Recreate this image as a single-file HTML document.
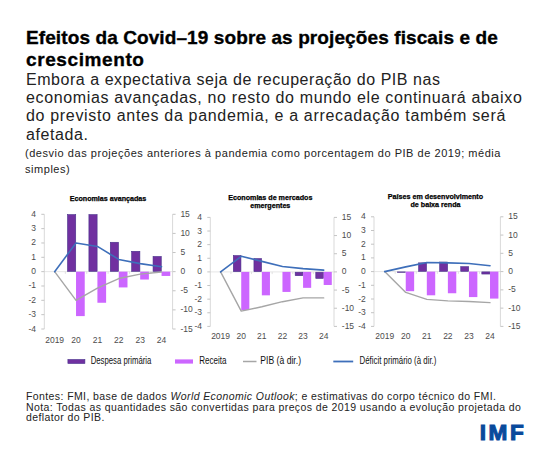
<!DOCTYPE html>
<html><head><meta charset="utf-8"><style>
html,body{margin:0;padding:0;background:#fff;}
body{width:550px;height:450px;position:relative;overflow:hidden;font-family:"Liberation Sans",sans-serif;color:#000;}
.t{position:absolute;white-space:nowrap;left:0;top:0;}
.h{font-weight:bold;font-size:19px;line-height:22px;letter-spacing:0.1px;color:#000;-webkit-text-stroke:0.35px #000;}
.s{font-size:16px;line-height:18.5px;color:#222;}
.n{font-size:11px;line-height:16px;color:#222;letter-spacing:0.54px}
.f{font-size:10.5px;line-height:10.5px;color:#222;letter-spacing:0.4px}
svg{position:absolute;left:0;top:0;}
.ax{font-family:"Liberation Sans",sans-serif;font-size:8.5px;fill:#4D4D4D;}
.ct{font-family:"Liberation Sans",sans-serif;font-size:7.15px;font-weight:bold;fill:#000;stroke:#000;stroke-width:0.25px}
.lg{font-family:"Liberation Sans",sans-serif;font-size:10.2px;fill:#111;}
</style></head><body>
<div class="t h m" style="left:26px;top:26.5px;">Efeitos da Covid–19 sobre as projeções fiscais e de</div>
<div class="t h m" style="left:26px;top:49px;letter-spacing:0.6px">crescimento</div>
<div class="t s m" style="left:26px;top:70.8px;letter-spacing:0.54px">Embora a expectativa seja de recuperação do PIB nas</div>
<div class="t s m" style="left:26px;top:89.1px;letter-spacing:0.64px">economias avançadas, no resto do mundo ele continuará abaixo</div>
<div class="t s m" style="left:26px;top:107.4px;letter-spacing:0.67px">do previsto antes da pandemia, e a arrecadação também será</div>
<div class="t s m" style="left:26px;top:126.4px;letter-spacing:0.6px">afetada.</div>
<div class="t n m" style="left:25px;top:145px;">(desvio das projeções anteriores à pandemia como porcentagem do PIB de 2019; média</div>
<div class="t n m" style="left:25px;top:161px;">simples)</div>
<div class="t f m" style="left:26px;top:391px;">Fontes: FMI, base de dados <i>World Economic Outlook</i>; e estimativas do corpo técnico do FMI.</div>
<div class="t f m" style="left:26px;top:401.5px;">Nota: Todas as quantidades são convertidas para preços de 2019 usando a evolução projetada do</div>
<div class="t f m" style="left:26px;top:412px;">deflator do PIB.</div>
<svg width="550" height="450" viewBox="0 0 550 450">
<line x1="44.3" y1="271.65" x2="172.6" y2="271.65" stroke="#E6E6E6" stroke-width="1"/>
<line x1="44.3" y1="214.3" x2="44.3" y2="329.0" stroke="#D9D9D9" stroke-width="1"/>
<line x1="172.6" y1="214.3" x2="172.6" y2="329.0" stroke="#D9D9D9" stroke-width="1"/>
<line x1="41.3" y1="214.30" x2="44.3" y2="214.30" stroke="#C4C4C4" stroke-width="1"/>
<text x="36.00" y="216.80" text-anchor="end" class="ax">4</text>
<line x1="41.3" y1="228.64" x2="44.3" y2="228.64" stroke="#C4C4C4" stroke-width="1"/>
<text x="36.00" y="231.14" text-anchor="end" class="ax">3</text>
<line x1="41.3" y1="242.98" x2="44.3" y2="242.98" stroke="#C4C4C4" stroke-width="1"/>
<text x="36.00" y="245.48" text-anchor="end" class="ax">2</text>
<line x1="41.3" y1="257.31" x2="44.3" y2="257.31" stroke="#C4C4C4" stroke-width="1"/>
<text x="36.00" y="259.81" text-anchor="end" class="ax">1</text>
<line x1="41.3" y1="271.65" x2="44.3" y2="271.65" stroke="#C4C4C4" stroke-width="1"/>
<text x="36.00" y="274.15" text-anchor="end" class="ax">0</text>
<line x1="41.3" y1="285.99" x2="44.3" y2="285.99" stroke="#C4C4C4" stroke-width="1"/>
<text x="36.00" y="288.49" text-anchor="end" class="ax">-1</text>
<line x1="41.3" y1="300.32" x2="44.3" y2="300.32" stroke="#C4C4C4" stroke-width="1"/>
<text x="36.00" y="302.82" text-anchor="end" class="ax">-2</text>
<line x1="41.3" y1="314.66" x2="44.3" y2="314.66" stroke="#C4C4C4" stroke-width="1"/>
<text x="36.00" y="317.16" text-anchor="end" class="ax">-3</text>
<line x1="41.3" y1="329.00" x2="44.3" y2="329.00" stroke="#C4C4C4" stroke-width="1"/>
<text x="36.00" y="331.50" text-anchor="end" class="ax">-4</text>
<line x1="172.6" y1="214.30" x2="175.6" y2="214.30" stroke="#C4C4C4" stroke-width="1"/>
<text x="180.40" y="216.80" class="ax">15</text>
<line x1="172.6" y1="233.42" x2="175.6" y2="233.42" stroke="#C4C4C4" stroke-width="1"/>
<text x="180.40" y="235.92" class="ax">10</text>
<line x1="172.6" y1="252.53" x2="175.6" y2="252.53" stroke="#C4C4C4" stroke-width="1"/>
<text x="180.40" y="255.03" class="ax">5</text>
<line x1="172.6" y1="271.65" x2="175.6" y2="271.65" stroke="#C4C4C4" stroke-width="1"/>
<text x="180.40" y="274.15" class="ax">0</text>
<line x1="172.6" y1="290.77" x2="175.6" y2="290.77" stroke="#C4C4C4" stroke-width="1"/>
<text x="180.40" y="293.27" class="ax">-5</text>
<line x1="172.6" y1="309.88" x2="175.6" y2="309.88" stroke="#C4C4C4" stroke-width="1"/>
<text x="180.40" y="312.38" class="ax">-10</text>
<line x1="172.6" y1="329.00" x2="175.6" y2="329.00" stroke="#C4C4C4" stroke-width="1"/>
<text x="180.40" y="331.50" class="ax">-15</text>
<line x1="65.33" y1="271.65" x2="65.33" y2="273.85" stroke="#D9D9D9" stroke-width="0.8"/>
<line x1="86.72" y1="271.65" x2="86.72" y2="273.85" stroke="#D9D9D9" stroke-width="0.8"/>
<line x1="108.10" y1="271.65" x2="108.10" y2="273.85" stroke="#D9D9D9" stroke-width="0.8"/>
<line x1="129.48" y1="271.65" x2="129.48" y2="273.85" stroke="#D9D9D9" stroke-width="0.8"/>
<line x1="150.87" y1="271.65" x2="150.87" y2="273.85" stroke="#D9D9D9" stroke-width="0.8"/>
<rect x="67.53" y="214.60" width="8.20" height="56.75" fill="#7030A0" stroke="#46308A" stroke-width="0.6"/>
<rect x="76.03" y="271.65" width="8.7" height="44.45" fill="#CC66FF"/>
<rect x="88.91" y="214.60" width="8.20" height="56.75" fill="#7030A0" stroke="#46308A" stroke-width="0.6"/>
<rect x="97.41" y="271.65" width="8.7" height="31.11" fill="#CC66FF"/>
<rect x="110.29" y="242.27" width="8.20" height="29.08" fill="#7030A0" stroke="#46308A" stroke-width="0.6"/>
<rect x="118.79" y="271.65" width="8.7" height="15.77" fill="#CC66FF"/>
<rect x="131.68" y="251.30" width="8.20" height="20.05" fill="#7030A0" stroke="#46308A" stroke-width="0.6"/>
<rect x="140.18" y="271.65" width="8.7" height="7.89" fill="#CC66FF"/>
<rect x="153.06" y="256.47" width="8.20" height="14.88" fill="#7030A0" stroke="#46308A" stroke-width="0.6"/>
<rect x="161.56" y="271.65" width="8.7" height="4.30" fill="#CC66FF"/>
<polyline points="54.64,271.65 76.03,300.32 97.41,288.09 118.79,278.53 140.18,274.14 161.56,272.03" fill="none" stroke="#A6A6A6" stroke-width="1.4" stroke-linejoin="round" stroke-linecap="round"/>
<polyline points="54.64,271.65 76.03,242.97 97.41,246.42 118.79,259.42 140.18,263.62 161.56,266.68" fill="none" stroke="#3E6FBA" stroke-width="1.6" stroke-linejoin="round" stroke-linecap="round"/>
<text x="54.64" y="342.6" text-anchor="middle" class="ax">2019</text>
<text x="76.03" y="342.6" text-anchor="middle" class="ax">20</text>
<text x="97.41" y="342.6" text-anchor="middle" class="ax">21</text>
<text x="118.79" y="342.6" text-anchor="middle" class="ax">22</text>
<text x="140.18" y="342.6" text-anchor="middle" class="ax">23</text>
<text x="161.56" y="342.6" text-anchor="middle" class="ax">24</text>
<text x="108" y="200.8" text-anchor="middle" class="ct">Economias avançadas</text>
<line x1="210.3" y1="271.90" x2="334.0" y2="271.90" stroke="#E6E6E6" stroke-width="1"/>
<line x1="210.3" y1="217.4" x2="210.3" y2="326.4" stroke="#D9D9D9" stroke-width="1"/>
<line x1="334.0" y1="217.4" x2="334.0" y2="326.4" stroke="#D9D9D9" stroke-width="1"/>
<line x1="207.3" y1="217.40" x2="210.3" y2="217.40" stroke="#C4C4C4" stroke-width="1"/>
<text x="202.00" y="219.90" text-anchor="end" class="ax">4</text>
<line x1="207.3" y1="231.03" x2="210.3" y2="231.03" stroke="#C4C4C4" stroke-width="1"/>
<text x="202.00" y="233.53" text-anchor="end" class="ax">3</text>
<line x1="207.3" y1="244.65" x2="210.3" y2="244.65" stroke="#C4C4C4" stroke-width="1"/>
<text x="202.00" y="247.15" text-anchor="end" class="ax">2</text>
<line x1="207.3" y1="258.27" x2="210.3" y2="258.27" stroke="#C4C4C4" stroke-width="1"/>
<text x="202.00" y="260.77" text-anchor="end" class="ax">1</text>
<line x1="207.3" y1="271.90" x2="210.3" y2="271.90" stroke="#C4C4C4" stroke-width="1"/>
<text x="202.00" y="274.40" text-anchor="end" class="ax">0</text>
<line x1="207.3" y1="285.52" x2="210.3" y2="285.52" stroke="#C4C4C4" stroke-width="1"/>
<text x="202.00" y="288.02" text-anchor="end" class="ax">-1</text>
<line x1="207.3" y1="299.15" x2="210.3" y2="299.15" stroke="#C4C4C4" stroke-width="1"/>
<text x="202.00" y="301.65" text-anchor="end" class="ax">-2</text>
<line x1="207.3" y1="312.77" x2="210.3" y2="312.77" stroke="#C4C4C4" stroke-width="1"/>
<text x="202.00" y="315.27" text-anchor="end" class="ax">-3</text>
<line x1="207.3" y1="326.40" x2="210.3" y2="326.40" stroke="#C4C4C4" stroke-width="1"/>
<text x="202.00" y="328.90" text-anchor="end" class="ax">-4</text>
<line x1="334.0" y1="217.40" x2="337.0" y2="217.40" stroke="#C4C4C4" stroke-width="1"/>
<text x="341.80" y="219.90" class="ax">15</text>
<line x1="334.0" y1="235.57" x2="337.0" y2="235.57" stroke="#C4C4C4" stroke-width="1"/>
<text x="341.80" y="238.07" class="ax">10</text>
<line x1="334.0" y1="253.73" x2="337.0" y2="253.73" stroke="#C4C4C4" stroke-width="1"/>
<text x="341.80" y="256.23" class="ax">5</text>
<line x1="334.0" y1="271.90" x2="337.0" y2="271.90" stroke="#C4C4C4" stroke-width="1"/>
<text x="341.80" y="274.40" class="ax">0</text>
<line x1="334.0" y1="290.07" x2="337.0" y2="290.07" stroke="#C4C4C4" stroke-width="1"/>
<text x="341.80" y="292.57" class="ax">-5</text>
<line x1="334.0" y1="308.23" x2="337.0" y2="308.23" stroke="#C4C4C4" stroke-width="1"/>
<text x="341.80" y="310.73" class="ax">-10</text>
<line x1="334.0" y1="326.40" x2="337.0" y2="326.40" stroke="#C4C4C4" stroke-width="1"/>
<text x="341.80" y="328.90" class="ax">-15</text>
<line x1="230.92" y1="271.90" x2="230.92" y2="274.10" stroke="#D9D9D9" stroke-width="0.8"/>
<line x1="251.53" y1="271.90" x2="251.53" y2="274.10" stroke="#D9D9D9" stroke-width="0.8"/>
<line x1="272.15" y1="271.90" x2="272.15" y2="274.10" stroke="#D9D9D9" stroke-width="0.8"/>
<line x1="292.77" y1="271.90" x2="292.77" y2="274.10" stroke="#D9D9D9" stroke-width="0.8"/>
<line x1="313.38" y1="271.90" x2="313.38" y2="274.10" stroke="#D9D9D9" stroke-width="0.8"/>
<rect x="233.33" y="255.58" width="7.60" height="16.02" fill="#7030A0" stroke="#46308A" stroke-width="0.6"/>
<rect x="241.23" y="271.90" width="8.1" height="38.15" fill="#CC66FF"/>
<rect x="253.94" y="258.57" width="7.60" height="13.02" fill="#7030A0" stroke="#46308A" stroke-width="0.6"/>
<rect x="261.84" y="271.90" width="8.1" height="23.43" fill="#CC66FF"/>
<rect x="282.46" y="271.90" width="8.1" height="20.03" fill="#CC66FF"/>
<rect x="295.18" y="272.20" width="7.60" height="3.49" fill="#7030A0" stroke="#46308A" stroke-width="0.6"/>
<rect x="303.07" y="271.90" width="8.1" height="15.94" fill="#CC66FF"/>
<rect x="315.79" y="272.20" width="7.60" height="6.21" fill="#7030A0" stroke="#46308A" stroke-width="0.6"/>
<rect x="323.69" y="271.90" width="8.1" height="13.08" fill="#CC66FF"/>
<polyline points="220.61,271.90 241.23,311.14 261.84,306.78 282.46,301.69 303.07,297.88 323.69,297.88" fill="none" stroke="#A6A6A6" stroke-width="1.4" stroke-linejoin="round" stroke-linecap="round"/>
<polyline points="220.61,271.90 241.23,256.28 261.84,261.36 282.46,266.45 303.07,268.63 323.69,270.08" fill="none" stroke="#3E6FBA" stroke-width="1.6" stroke-linejoin="round" stroke-linecap="round"/>
<text x="220.61" y="339.2" text-anchor="middle" class="ax">2019</text>
<text x="241.23" y="339.2" text-anchor="middle" class="ax">20</text>
<text x="261.84" y="339.2" text-anchor="middle" class="ax">21</text>
<text x="282.46" y="339.2" text-anchor="middle" class="ax">22</text>
<text x="303.07" y="339.2" text-anchor="middle" class="ax">23</text>
<text x="323.69" y="339.2" text-anchor="middle" class="ax">24</text>
<text x="270.3" y="199.5" text-anchor="middle" class="ct">Economias de mercados</text>
<text x="270.3" y="208.3" text-anchor="middle" class="ct">emergentes</text>
<line x1="374.0" y1="271.60" x2="500.4" y2="271.60" stroke="#E6E6E6" stroke-width="1"/>
<line x1="374.0" y1="216.8" x2="374.0" y2="326.4" stroke="#D9D9D9" stroke-width="1"/>
<line x1="500.4" y1="216.8" x2="500.4" y2="326.4" stroke="#D9D9D9" stroke-width="1"/>
<line x1="371.0" y1="216.80" x2="374.0" y2="216.80" stroke="#C4C4C4" stroke-width="1"/>
<text x="365.70" y="219.30" text-anchor="end" class="ax">4</text>
<line x1="371.0" y1="230.50" x2="374.0" y2="230.50" stroke="#C4C4C4" stroke-width="1"/>
<text x="365.70" y="233.00" text-anchor="end" class="ax">3</text>
<line x1="371.0" y1="244.20" x2="374.0" y2="244.20" stroke="#C4C4C4" stroke-width="1"/>
<text x="365.70" y="246.70" text-anchor="end" class="ax">2</text>
<line x1="371.0" y1="257.90" x2="374.0" y2="257.90" stroke="#C4C4C4" stroke-width="1"/>
<text x="365.70" y="260.40" text-anchor="end" class="ax">1</text>
<line x1="371.0" y1="271.60" x2="374.0" y2="271.60" stroke="#C4C4C4" stroke-width="1"/>
<text x="365.70" y="274.10" text-anchor="end" class="ax">0</text>
<line x1="371.0" y1="285.30" x2="374.0" y2="285.30" stroke="#C4C4C4" stroke-width="1"/>
<text x="365.70" y="287.80" text-anchor="end" class="ax">-1</text>
<line x1="371.0" y1="299.00" x2="374.0" y2="299.00" stroke="#C4C4C4" stroke-width="1"/>
<text x="365.70" y="301.50" text-anchor="end" class="ax">-2</text>
<line x1="371.0" y1="312.70" x2="374.0" y2="312.70" stroke="#C4C4C4" stroke-width="1"/>
<text x="365.70" y="315.20" text-anchor="end" class="ax">-3</text>
<line x1="371.0" y1="326.40" x2="374.0" y2="326.40" stroke="#C4C4C4" stroke-width="1"/>
<text x="365.70" y="328.90" text-anchor="end" class="ax">-4</text>
<line x1="500.4" y1="216.80" x2="503.4" y2="216.80" stroke="#C4C4C4" stroke-width="1"/>
<text x="508.20" y="219.30" class="ax">15</text>
<line x1="500.4" y1="235.07" x2="503.4" y2="235.07" stroke="#C4C4C4" stroke-width="1"/>
<text x="508.20" y="237.57" class="ax">10</text>
<line x1="500.4" y1="253.33" x2="503.4" y2="253.33" stroke="#C4C4C4" stroke-width="1"/>
<text x="508.20" y="255.83" class="ax">5</text>
<line x1="500.4" y1="271.60" x2="503.4" y2="271.60" stroke="#C4C4C4" stroke-width="1"/>
<text x="508.20" y="274.10" class="ax">0</text>
<line x1="500.4" y1="289.87" x2="503.4" y2="289.87" stroke="#C4C4C4" stroke-width="1"/>
<text x="508.20" y="292.37" class="ax">-5</text>
<line x1="500.4" y1="308.13" x2="503.4" y2="308.13" stroke="#C4C4C4" stroke-width="1"/>
<text x="508.20" y="310.63" class="ax">-10</text>
<line x1="500.4" y1="326.40" x2="503.4" y2="326.40" stroke="#C4C4C4" stroke-width="1"/>
<text x="508.20" y="328.90" class="ax">-15</text>
<line x1="395.22" y1="271.60" x2="395.22" y2="273.80" stroke="#D9D9D9" stroke-width="0.8"/>
<line x1="416.28" y1="271.60" x2="416.28" y2="273.80" stroke="#D9D9D9" stroke-width="0.8"/>
<line x1="437.35" y1="271.60" x2="437.35" y2="273.80" stroke="#D9D9D9" stroke-width="0.8"/>
<line x1="458.42" y1="271.60" x2="458.42" y2="273.80" stroke="#D9D9D9" stroke-width="0.8"/>
<line x1="479.48" y1="271.60" x2="479.48" y2="273.80" stroke="#D9D9D9" stroke-width="0.8"/>
<rect x="397.55" y="271.90" width="7.90" height="0.50" fill="#7030A0" stroke="#46308A" stroke-width="0.6"/>
<rect x="405.75" y="271.60" width="8.4" height="19.59" fill="#CC66FF"/>
<rect x="418.62" y="262.86" width="7.90" height="8.44" fill="#7030A0" stroke="#46308A" stroke-width="0.6"/>
<rect x="426.82" y="271.60" width="8.4" height="23.70" fill="#CC66FF"/>
<rect x="439.68" y="262.04" width="7.90" height="9.26" fill="#7030A0" stroke="#46308A" stroke-width="0.6"/>
<rect x="447.88" y="271.60" width="8.4" height="21.65" fill="#CC66FF"/>
<rect x="460.75" y="266.69" width="7.90" height="4.61" fill="#7030A0" stroke="#46308A" stroke-width="0.6"/>
<rect x="468.95" y="271.60" width="8.4" height="25.48" fill="#CC66FF"/>
<rect x="481.82" y="271.90" width="7.90" height="2.14" fill="#7030A0" stroke="#46308A" stroke-width="0.6"/>
<rect x="490.02" y="271.60" width="8.4" height="26.99" fill="#CC66FF"/>
<polyline points="384.68,271.60 405.75,292.42 426.82,299.37 447.88,300.83 468.95,301.56 490.02,302.65" fill="none" stroke="#A6A6A6" stroke-width="1.4" stroke-linejoin="round" stroke-linecap="round"/>
<polyline points="384.68,271.60 405.75,266.85 426.82,262.47 447.88,262.83 468.95,263.56 490.02,265.75" fill="none" stroke="#3E6FBA" stroke-width="1.6" stroke-linejoin="round" stroke-linecap="round"/>
<text x="384.68" y="339.2" text-anchor="middle" class="ax">2019</text>
<text x="405.75" y="339.2" text-anchor="middle" class="ax">20</text>
<text x="426.82" y="339.2" text-anchor="middle" class="ax">21</text>
<text x="447.88" y="339.2" text-anchor="middle" class="ax">22</text>
<text x="468.95" y="339.2" text-anchor="middle" class="ax">23</text>
<text x="490.02" y="339.2" text-anchor="middle" class="ax">24</text>
<text x="435.5" y="199" text-anchor="middle" class="ct">Países em desenvolvimento</text>
<text x="435.5" y="207.4" text-anchor="middle" class="ct">de baixa renda</text>
<rect x="67.9" y="359.5" width="17" height="4" fill="#7030A0" stroke="#46308A" stroke-width="0.6"/>
<rect x="175" y="359.4" width="18" height="4.2" fill="#CC66FF"/>
<line x1="243" y1="361.5" x2="256.5" y2="361.5" stroke="#A6A6A6" stroke-width="1.5"/>
<line x1="333.3" y1="361.5" x2="353.2" y2="361.5" stroke="#3E6FBA" stroke-width="1.8"/>
<text x="90.7" y="364.4" class="lg" textLength="60.7" lengthAdjust="spacingAndGlyphs">Despesa primária</text>
<text x="199.3" y="364.4" class="lg" textLength="27.2" lengthAdjust="spacingAndGlyphs">Receita</text>
<text x="260.3" y="364.4" class="lg" textLength="40.7" lengthAdjust="spacingAndGlyphs">PIB (à dir.)</text>
<text x="359.5" y="364.4" class="lg" textLength="76.9" lengthAdjust="spacingAndGlyphs">Déficit primário (à dir.)</text>
<text x="479.8" y="440.2" style="font-family:'Liberation Sans',sans-serif;font-weight:bold;font-size:22.6px;fill:#0A4A9C;stroke:#0A4A9C;stroke-width:1.1px;letter-spacing:2.5px">IMF</text>
</svg>
</body></html>
